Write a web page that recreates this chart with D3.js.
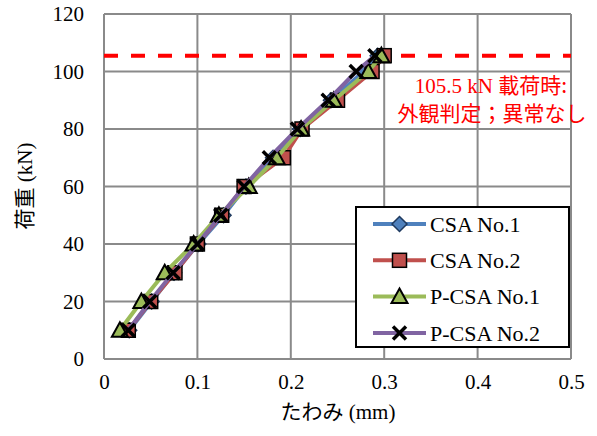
<!DOCTYPE html>
<html>
<head>
<meta charset="utf-8">
<script src="https://cdn.jsdelivr.net/npm/d3@7"></script>
<style>
  body { margin: 0; background: #fff; }
</style>
</head>
<body>
<svg width="597" height="436"></svg>
<script>
// 荷重 - たわみ 曲線
var loads = [10, 20, 30, 40, 50, 60, 70, 80, 90, 100, 105.5];
var csa1 = [0.027, 0.051, 0.075, 0.101, 0.128, 0.152, 0.181, 0.210, 0.243, 0.278, 0.293];
var csa2 = [0.026, 0.050, 0.076, 0.100, 0.126, 0.150, 0.192, 0.212, 0.250, 0.287, 0.300];
var pcsa1 = [0.017, 0.040, 0.065, 0.096, 0.123, 0.155, 0.185, 0.211, 0.246, 0.283, 0.297];
var pcsa2 = [0.026, 0.049, 0.074, 0.100, 0.125, 0.150, 0.177, 0.207, 0.240, 0.270, 0.290];
var seriesNames = ["CSA No.1", "CSA No.2", "P-CSA No.1", "P-CSA No.2"];
var xTicks = [0, 0.1, 0.2, 0.3, 0.4, 0.5];
var yTicks = [0, 20, 40, 60, 80, 100, 120];
var limitLoad = 105.5;

var SERIF = "'Liberation Serif', 'Times New Roman', serif";
var GOTHIC = "'Noto Sans CJK JP', 'Noto Sans', sans-serif";

var series = [
    { name: seriesNames[0], values: csa1, color: "#4F81BD", marker: "diamond" },
    { name: seriesNames[1], values: csa2, color: "#C0504D", marker: "square" },
    { name: seriesNames[2], values: pcsa1, color: "#9BBB59", marker: "triangle" },
    { name: seriesNames[3], values: pcsa2, color: "#8064A2", marker: "cross" }
];

var svg = d3.select("svg");

var x = d3.scaleLinear().domain([0, 0.5]).range([104, 571]),
    y = d3.scaleLinear().domain([0, 120]).range([359, 14]);

// グリッド線
var grid = svg.append("g").attr("stroke", "#8a8a8a").attr("stroke-width", 2);
grid.selectAll(".gx").data(xTicks).enter().append("line")
    .attr("x1", function (d) { return x(d); })
    .attr("x2", function (d) { return x(d); })
    .attr("y1", y(0)).attr("y2", y(120));
grid.selectAll(".gy").data(yTicks).enter().append("line")
    .attr("y1", function (d) { return y(d); })
    .attr("y2", function (d) { return y(d); })
    .attr("x1", x(0)).attr("x2", x(0.5));

// 目盛ラベル
var xAxis = svg.append("g")
    .attr("transform", "translate(0," + y(0) + ")")
    .call(d3.axisBottom(x).tickValues(xTicks).tickSize(0).tickPadding(15)
        .tickFormat(function (d) { return d === 0 ? "0" : d3.format(".1f")(d); }));
xAxis.select(".domain").remove();
xAxis.selectAll("text").style("font-family", SERIF).style("font-size", "21px").attr("fill", "#000");

var yAxis = svg.append("g")
    .attr("transform", "translate(" + x(0) + ",0)")
    .call(d3.axisLeft(y).tickValues(yTicks).tickSize(0).tickPadding(20));
yAxis.select(".domain").remove();
yAxis.selectAll("text").style("font-family", SERIF).style("font-size", "21px").attr("fill", "#000");

// 和文(ゴシック)と欧文(セリフ)を混ぜたテキスト
function mixedText(sel, parts) {
    parts.forEach(function (p) {
        sel.append("tspan")
            .style("font-family", p[1] ? GOTHIC : SERIF)
            .text(p[0]);
    });
    return sel;
}

// 軸タイトル
mixedText(svg.append("text")
    .attr("x", 338).attr("y", 419)
    .attr("text-anchor", "middle")
    .style("font-size", "21px"), [["たわみ", true], [" (mm)", false]]);

mixedText(svg.append("text")
    .attr("transform", "translate(32,186) rotate(-90)")
    .attr("text-anchor", "middle")
    .style("font-size", "21px"), [["荷重", true], [" (kN)", false]]);

// 105.5 kN の破線
svg.append("line")
    .attr("x1", x(0)).attr("x2", x(0.5))
    .attr("y1", y(limitLoad)).attr("y2", y(limitLoad))
    .attr("stroke", "#FF0000").attr("stroke-width", 4)
    .attr("stroke-dasharray", "14,13");

function drawMarker(g, type, color, cx, cy) {
    if (type === "diamond") {
        g.append("path")
            .attr("d", "M" + cx + "," + (cy - 7.5) + "L" + (cx + 7.5) + "," + cy +
                "L" + cx + "," + (cy + 7.5) + "L" + (cx - 7.5) + "," + cy + "Z")
            .attr("fill", color).attr("stroke", "#1f3a5f").attr("stroke-width", 1.5);
    } else if (type === "square") {
        g.append("rect")
            .attr("x", cx - 7).attr("y", cy - 7)
            .attr("width", 14).attr("height", 14)
            .attr("fill", color).attr("stroke", "#000").attr("stroke-width", 1.5);
    } else if (type === "triangle") {
        g.append("path")
            .attr("d", "M" + cx + "," + (cy - 8) + "L" + (cx + 8) + "," + (cy + 6.5) +
                "L" + (cx - 8) + "," + (cy + 6.5) + "Z")
            .attr("fill", color).attr("stroke", "#000").attr("stroke-width", 2);
    } else {
        g.append("path")
            .attr("d", "M" + (cx - 6.5) + "," + (cy - 6.5) + "L" + (cx + 6.5) + "," + (cy + 6.5) +
                "M" + (cx + 6.5) + "," + (cy - 6.5) + "L" + (cx - 6.5) + "," + (cy + 6.5))
            .attr("stroke", "#000").attr("stroke-width", 3.5).attr("fill", "none");
    }
}

var line = d3.line()
    .x(function (d) { return x(d[0]); })
    .y(function (d) { return y(d[1]); });

// 系列ごとに線とマーカーを描画
series.forEach(function (s) {
    var pts = s.values.map(function (v, i) { return [v, loads[i]]; });
    var g = svg.append("g");
    g.append("path")
        .datum(pts)
        .attr("d", line)
        .attr("fill", "none")
        .attr("stroke", s.color)
        .attr("stroke-width", 4)
        .attr("stroke-linejoin", "round");
    pts.forEach(function (p) {
        drawMarker(g, s.marker, s.color, x(p[0]), y(p[1]));
    });
});

// 注記
var note = svg.append("g").attr("fill", "#FF0000").attr("text-anchor", "middle").style("font-size", "21px");
mixedText(note.append("text").attr("x", 491).attr("y", 93), [["105.5 kN ", false], ["載荷時:", true]]);
mixedText(note.append("text").attr("x", 492).attr("y", 121), [["外観判定；異常なし", true]]);

// 凡例
var legend = svg.append("g");
legend.append("rect")
    .attr("x", 356).attr("y", 207)
    .attr("width", 213).attr("height", 140)
    .attr("fill", "#fff").attr("stroke", "#000").attr("stroke-width", 2);

series.forEach(function (s, i) {
    var ly = 224 + i * 36.3;
    legend.append("line")
        .attr("x1", 373).attr("x2", 426)
        .attr("y1", ly).attr("y2", ly)
        .attr("stroke", s.color).attr("stroke-width", 4);
    drawMarker(legend, s.marker, s.color, 399.5, ly);
    legend.append("text")
        .attr("x", 430).attr("y", ly)
        .attr("dy", "0.35em")
        .style("font-family", SERIF)
        .style("font-size", "22px")
        .attr("fill", "#000")
        .text(s.name);
});
</script>
</body>
</html>
